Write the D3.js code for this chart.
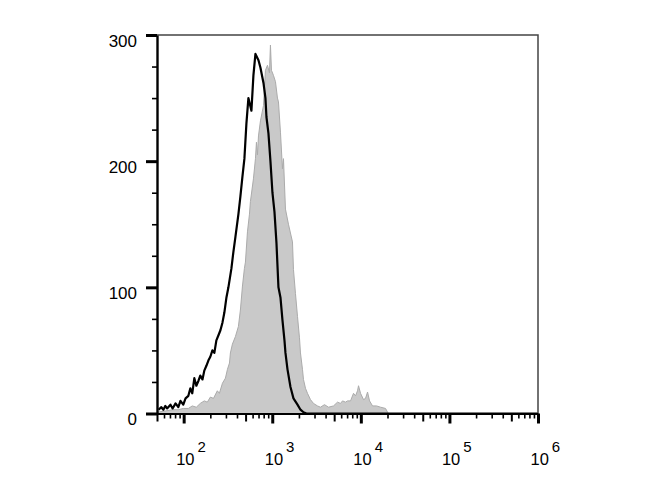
<!DOCTYPE html>
<html>
<head>
<meta charset="utf-8">
<script src="https://cdn.jsdelivr.net/npm/d3@7"></script>
<style>
  body { margin: 0; background: #fff; }
  svg { display: block; font-family: "Liberation Sans", Arial, sans-serif; }
</style>
</head>
<body>
<svg width="670" height="500"></svg>
<script>
// fluorescence intensity (channel value) and event counts
const blackMfi = [52, 56, 59, 62, 65, 71, 75, 81, 87, 92, 99, 105, 113, 119, 125, 132, 139, 147, 154, 163,
  171, 181, 190, 200, 211, 222, 234, 247, 260, 274, 288, 304, 320, 346, 364, 384, 415, 437, 461, 485,
  511, 538, 582, 613, 646, 699, 736, 796, 838, 860, 906, 954, 1005, 1059, 1116, 1175, 1238, 1304, 1374, 1410,
  1486, 1606, 1736, 1927, 2083, 2252, 2434, 1000000]
const blackCount = [3, 5, 3, 6, 4, 7, 4, 8, 5, 10, 7, 12, 14, 20, 16, 28, 22, 26, 30, 27,
  34, 38, 42, 45, 50, 48, 58, 62, 66, 72, 80, 92, 100, 115, 128, 140, 158, 172, 188, 202,
  230, 250, 240, 268, 285, 280, 274, 262, 250, 235, 222, 200, 175, 160, 135, 100, 92, 74, 58, 48,
  35, 21, 12, 7, 3, 1, 0, 0]

const grayMfi = [50, 62, 75, 87, 99, 113, 125, 139, 154, 171, 185, 200, 217, 240, 253, 274, 296, 312, 329, 337,
  355, 384, 415, 437, 461, 485, 498, 525, 553, 567, 613, 646, 663, 681, 699, 736, 796, 838, 883, 930,
  954, 980, 1032, 1087, 1145, 1175, 1238, 1304, 1339, 1410, 1524, 1692, 1736, 1829, 1927, 2029, 2083, 2194, 2252, 2372,
  2499, 2702, 2921, 3241, 3504, 3888, 4315, 4914, 5454, 5897, 6212, 6716, 7073, 7648, 8270, 8711, 9177, 9419, 9922, 10727,
  11300, 11905, 12542, 13560, 15044, 16700, 19010, 20030, 20560]
const grayCount = [1, 2, 3, 3, 4, 4, 6, 5, 8, 10, 9, 13, 12, 18, 16, 24, 28, 35, 40, 48,
  55, 61, 69, 82, 101, 115, 120, 144, 158, 168, 186, 202, 215, 205, 220, 232, 244, 272, 276, 270,
  292, 272, 268, 263, 250, 247, 223, 194, 202, 162, 150, 136, 114, 95, 77, 60, 48, 35, 27, 20,
  16, 11, 8, 6, 5, 7, 5, 6, 9, 8, 10, 9, 10, 10, 16, 14, 18, 22, 16, 11,
  12, 17, 10, 6, 6, 5, 4, 1, 0]

const yMajor = [0, 100, 200, 300]
const xMajor = [1e2, 1e3, 1e4, 1e5, 1e6]
const xExp = ['2', '3', '4', '5', '6']

const svg = d3.select('svg')

const x = d3.scaleLog()
  .domain([50, 1e6])
  .range([157, 538])

const y = d3.scaleLinear()
  .domain([0, 300])
  .range([413.5, 35])

const grayPts = grayMfi.map((v, i) => [v, grayCount[i]])
const blackPts = blackMfi.map((v, i) => [v, blackCount[i]])

svg.append('defs').append('clipPath').attr('id', 'plot')
  .append('rect').attr('x', 157).attr('y', 30).attr('width', 381).attr('height', 384)

const plot = svg.append('g').attr('clip-path', 'url(#plot)')

plot.append('path')
  .datum(grayPts)
  .attr('fill', '#c9c9c9')
  .attr('stroke', '#ababab')
  .attr('stroke-width', 1)
  .attr('d', d3.area()
    .x(d => x(d[0]))
    .y0(y(0))
    .y1(d => y(d[1])))

plot.append('path')
  .datum(blackPts)
  .attr('fill', 'none')
  .attr('stroke', '#000')
  .attr('stroke-width', 2.2)
  .attr('stroke-linejoin', 'round')
  .attr('d', d3.line()
    .x(d => x(d[0]))
    .y(d => y(d[1])))

// frame top/right
svg.append('path')
  .attr('d', `M${x.range()[0]},${y(300)}H${x.range()[1]}V${y(0)}`)
  .attr('fill', 'none')
  .attr('stroke', '#444')
  .attr('stroke-width', 1.5)

// x axis: minor, medium, major ticks
const decades = d3.range(1, 6)
const xMinor = []
const xMid = []
decades.forEach(e => {
  d3.range(2, 10).forEach(m => {
    const v = m * Math.pow(10, e)
    if (v < 50 || v > 1e6) return
    if (m === 5) xMid.push(v)
    else xMinor.push(v)
  })
})

const gxMinor = svg.append('g')
  .attr('transform', `translate(0,${y(0)})`)
  .call(d3.axisBottom(x).tickValues(xMinor).tickSize(5).tickSizeOuter(0).tickFormat(''))
gxMinor.select('.domain').remove()
gxMinor.selectAll('line').attr('stroke-width', 1.6)

const gxMid = svg.append('g')
  .attr('transform', `translate(0,${y(0)})`)
  .call(d3.axisBottom(x).tickValues(xMid).tickSize(8).tickSizeOuter(0).tickFormat(''))
gxMid.select('.domain').remove()
gxMid.selectAll('line').attr('stroke-width', 2)

const gx = svg.append('g')
  .attr('transform', `translate(0,${y(0)})`)
  .call(d3.axisBottom(x).tickValues(xMajor).tickSize(10).tickSizeOuter(0).tickFormat(''))
gx.select('.domain').attr('stroke-width', 2.2)
gx.selectAll('.tick line').attr('stroke-width', 3)
gx.selectAll('.tick').each(function(d, i) {
  const t = d3.select(this).append('text')
    .attr('fill', '#000')
    .attr('x', -8)
    .attr('y', 51)
    .attr('text-anchor', 'start')
    .attr('font-size', 16.5)
  t.append('tspan').text('10')
  t.append('tspan')
    .attr('dx', 3)
    .attr('dy', -12.5)
    .attr('font-size', 15)
    .text(xExp[i])
})

// y axis
const yMinor = d3.range(25, 300, 25).filter(v => v % 100 !== 0)
const gyMinor = svg.append('g')
  .attr('transform', `translate(${x.range()[0]},0)`)
  .call(d3.axisLeft(y).tickValues(yMinor).tickSize(5).tickSizeOuter(0).tickFormat(''))
gyMinor.select('.domain').remove()
gyMinor.selectAll('line').attr('stroke-width', 1.6)

const gy = svg.append('g')
  .attr('transform', `translate(${x.range()[0]},0)`)
  .call(d3.axisLeft(y).tickValues(yMajor).tickSize(11).tickPadding(9).tickSizeOuter(0))
gy.select('.domain').attr('stroke-width', 2.4)
gy.selectAll('.tick line').attr('stroke-width', 3)
gy.selectAll('.tick text')
  .attr('font-size', 17)
  .attr('fill', '#000')
  .attr('dy', '0.65em')
</script>
</body>
</html>
